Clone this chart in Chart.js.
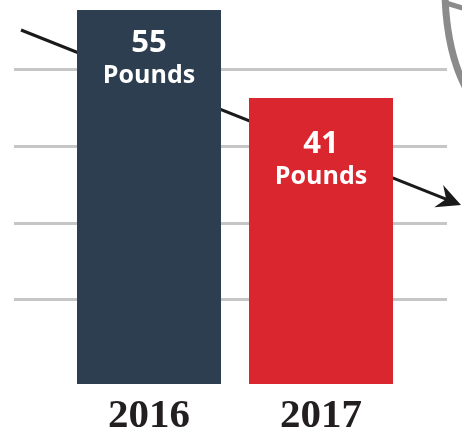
<!DOCTYPE html>
<html>
<head>
<meta charset="utf-8">
<script src="https://cdn.jsdelivr.net/npm/chart.js@4.4.1/dist/chart.umd.min.js"></script>
<style>
  html, body { margin: 0; padding: 0; background: #ffffff; }
  #wrap { width: 462px; height: 431px; position: relative; }
</style>
</head>
<body>
<div id="wrap"><canvas id="c" width="462" height="431"></canvas></div>
<script>
// ---- data ----
const years = ['2016', '2017'];
const pounds = [55, 41];
const unitLabel = 'Pounds';
const gridValues = [9, 21.1, 33.4, 45.6];
const barColors = ['#2c3e50', '#d9262f'];

const decor = {
  id: 'decor',
  beforeDatasetsDraw(chart) {
    const { ctx, chartArea: ca, scales: { y } } = chart;
    ctx.save();
    // grid lines
    ctx.strokeStyle = '#c6c6c6';
    ctx.lineWidth = 3;
    gridValues.forEach(v => {
      const py = Math.round(y.getPixelForValue(v)) + 0.5;
      ctx.beginPath();
      ctx.moveTo(ca.left - 49, py);
      ctx.lineTo(ca.right + 40, py);
      ctx.stroke();
    });
    // trend arrow
    const x0 = ca.left - 42, y0 = ca.top + 20;
    const x1 = ca.right + 54, y1 = ca.top + 195;
    const ang = Math.atan2(y1 - y0, x1 - x0);
    ctx.strokeStyle = '#1a1a1a';
    ctx.fillStyle = '#1a1a1a';
    ctx.lineWidth = 3;
    ctx.beginPath();
    ctx.moveTo(x0, y0);
    ctx.lineTo(x1 - 10 * Math.cos(ang), y1 - 10 * Math.sin(ang));
    ctx.stroke();
    ctx.translate(x1, y1);
    ctx.rotate(ang);
    ctx.beginPath();
    ctx.moveTo(0, 0);
    ctx.lineTo(-24, -12);
    ctx.lineTo(-16, 0);
    ctx.lineTo(-24, 12);
    ctx.closePath();
    ctx.fill();
    ctx.restore();

    // partial icon at top right
    ctx.save();
    ctx.strokeStyle = '#8b8b8b';
    ctx.lineWidth = 7;
    ctx.beginPath();
    ctx.moveTo(445, -4);
    ctx.quadraticCurveTo(447, 55, 468, 92);
    ctx.stroke();
    ctx.lineWidth = 5;
    ctx.beginPath();
    ctx.moveTo(446, 3);
    ctx.lineTo(466, 9);
    ctx.stroke();
    ctx.restore();
  },
  afterDatasetsDraw(chart, args, opts) {
    const { ctx } = chart;
    const meta = chart.getDatasetMeta(0);
    ctx.save();
    ctx.fillStyle = '#ffffff';
    ctx.textAlign = 'center';
    ctx.textBaseline = 'alphabetic';
    meta.data.forEach((bar, i) => {
      const off = opts.offsets[i];
      ctx.font = 'bold 31px "Open Sans"';
      ctx.fillText(String(pounds[i]), bar.x, bar.y + off);
      ctx.font = 'bold 25px "Open Sans"';
      ctx.fillText(unitLabel, bar.x, bar.y + off + 31);
    });
    ctx.restore();
  }
};

new Chart(document.getElementById('c'), {
  type: 'bar',
  data: {
    labels: years,
    datasets: [{
      data: pounds,
      backgroundColor: barColors,
      borderWidth: 0,
      base: -4.5,
      barPercentage: 1,
      categoryPercentage: 144 / 172
    }]
  },
  options: {
    responsive: false,
    animation: false,
    events: [],
    layout: { padding: { left: 63, right: 55, top: 10, bottom: 0 } },
    plugins: {
      legend: { display: false },
      tooltip: { enabled: false },
      decor: { offsets: [42, 55] }
    },
    scales: {
      y: {
        display: false,
        min: -4.5,
        max: 55
      },
      x: {
        afterFit(scale) { scale.height = 47; },
        grid: { display: false, drawTicks: false },
        border: { display: false },
        ticks: {
          color: '#231f20',
          padding: 12,
          font: { family: '"Liberation Serif"', weight: 'bold', size: 41, lineHeight: 1 }
        }
      }
    }
  },
  plugins: [decor]
});
</script>
</body>
</html>
